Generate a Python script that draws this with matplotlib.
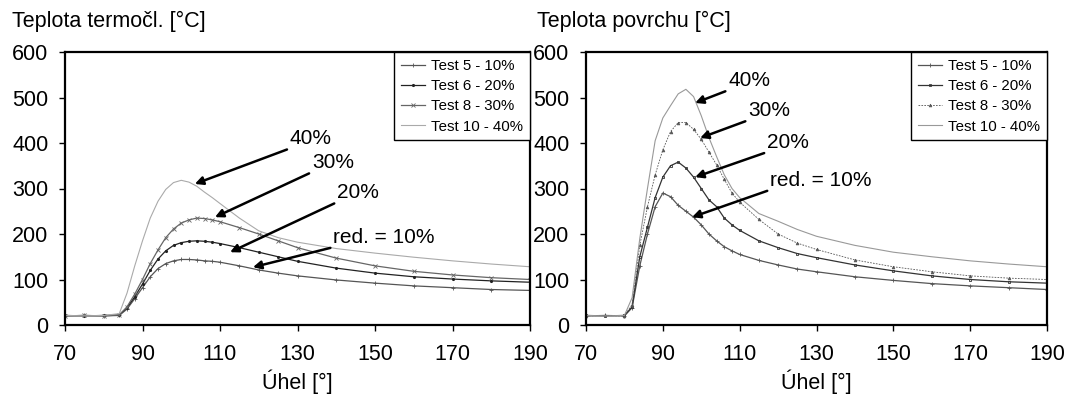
import matplotlib
matplotlib.use("Agg")
import matplotlib.pyplot as plt

plt.rcParams['font.family'] = ['Liberation Sans', 'DejaVu Sans']

# ---------------- data ----------------
x_left = [70, 75, 80, 84, 86, 88, 90, 92, 94, 96, 98, 100, 102, 104, 106, 108, 110,
          115, 120, 125, 130, 140, 150, 160, 170, 180, 190]
left_10 = [20, 21, 20, 21, 35, 58, 82, 106, 124, 135, 141, 144, 144, 143, 141, 140, 138,
           130, 121, 114, 108, 99, 92, 86, 82, 78, 76]
left_20 = [21, 20, 21, 22, 38, 62, 90, 120, 145, 163, 175, 181, 184, 185, 184, 182, 179,
           170, 160, 150, 140, 125, 114, 106, 101, 97, 94]
left_30 = [20, 21, 20, 22, 40, 68, 100, 135, 165, 192, 211, 224, 231, 235, 234, 231, 227,
           214, 200, 185, 170, 147, 130, 118, 110, 104, 100]
left_40 = [21, 20, 21, 25, 70, 130, 185, 235, 272, 298, 313, 318, 314, 305, 292, 280, 267,
           235, 207, 192, 182, 168, 158, 149, 141, 134, 128]

x_right = [70, 75, 80, 82, 84, 86, 88, 90, 92, 94, 96, 98, 100, 102, 104, 106, 108, 110,
           115, 120, 125, 130, 140, 150, 160, 170, 180, 190]
right_10 = [20, 21, 20, 38, 130, 200, 260, 290, 282, 263, 250, 237, 220, 200, 185, 172, 163, 155,
            142, 132, 123, 117, 106, 98, 91, 86, 82, 78]
right_20 = [21, 20, 21, 40, 150, 215, 280, 325, 350, 358, 345, 325, 300, 275, 260, 235, 220, 208,
            185, 170, 157, 148, 132, 119, 108, 100, 95, 92]
right_30 = [20, 21, 20, 45, 175, 260, 330, 385, 425, 445, 445, 430, 408, 380, 352, 320, 290, 270,
            232, 200, 180, 166, 143, 128, 117, 108, 103, 100]
right_40 = [21, 20, 21, 60, 190, 300, 405, 455, 482, 508, 518, 502, 460, 412, 370, 330, 300, 280,
            245, 228, 210, 195, 175, 160, 150, 141, 134, 128]

legend_labels = ["Test 5 - 10%", "Test 6 - 20%", "Test 8 - 30%", "Test 10 - 40%"]
x_ticks = [70, 90, 110, 130, 150, 170, 190]
y_ticks = [0, 100, 200, 300, 400, 500, 600]
titles = ["Teplota termočl. [°C]", "Teplota povrchu [°C]"]
xlabel = "Úhel [°]"
ann_labels = ["40%", "30%", "20%", "red. = 10%"]

# ---------------- figure ----------------
W, H = 1065, 394
fig = plt.figure(figsize=(W / 100, H / 100), dpi=100)

def px_axes(l, r, t, b):
    return [l / W, 1 - b / H, (r - l) / W, (b - t) / H]

axL = fig.add_axes(px_axes(65, 530, 52, 325))
axR = fig.add_axes(px_axes(586, 1047, 52, 325))

# left series
axL.plot(x_left, left_10, color='#555555', lw=0.9, marker='+', ms=3, mew=0.6, label=legend_labels[0])
axL.plot(x_left, left_20, color='#222222', lw=0.9, marker='.', ms=2.5, label=legend_labels[1])
axL.plot(x_left, left_30, color='#666666', lw=0.9, marker='x', ms=2.5, mew=0.6, label=legend_labels[2])
axL.plot(x_left, left_40, color='#aaaaaa', lw=0.8, label=legend_labels[3])

# right series
axR.plot(x_right, right_10, color='#555555', lw=0.9, marker='+', ms=3, mew=0.6, label=legend_labels[0])
axR.plot(x_right, right_20, color='#333333', lw=0.9, marker='s', ms=2, mfc='none', mew=0.6, label=legend_labels[1])
axR.plot(x_right, right_30, color='#555555', lw=0.6, ls=(0, (2, 1.5)), marker='^', ms=2, mew=0.5, label=legend_labels[2])
axR.plot(x_right, right_40, color='#999999', lw=0.8, label=legend_labels[3])

for ax, title, tx in ((axL, titles[0], 12), (axR, titles[1], 537)):
    ax.set_xlim(70, 190)
    ax.set_ylim(0, 600)
    ax.set_xticks(x_ticks)
    ax.set_yticks(y_ticks)
    ax.tick_params(axis='both', direction='out', length=4, width=1, labelsize=15.5, color='black')
    ax.tick_params(axis='y', pad=8)
    ax.tick_params(axis='x', pad=10)
    for s in ax.spines.values():
        s.set_linewidth(1.6)
        s.set_color('black')
    ax.set_xlabel(xlabel, fontsize=15.5, labelpad=3)
    fig.text(tx / W, 1 - 21 / H, title, fontsize=15.5, ha='left', va='center')
    leg = ax.legend(loc='upper right', bbox_to_anchor=(1, 1), borderaxespad=0,
                    fancybox=False, framealpha=1, edgecolor='black', fontsize=10.8,
                    handlelength=1.6, handletextpad=0.45, labelspacing=0.42,
                    borderpad=0.45, numpoints=1)
    leg.get_frame().set_linewidth(1.0)

arrow_kw = dict(arrowstyle='-|>', color='black', lw=1.8, mutation_scale=12,
                shrinkA=0, shrinkB=0, relpos=(0, 0))

# left annotations: (text lower-left, arrow tip)
left_ann = [((128.0, 388), (103.5, 310)),
            ((133.7, 336), (108.7, 237)),
            ((140.2, 270), (112.6, 160)),
            ((139.2, 171), (118.5, 127))]
for lab, (txy, axy) in zip(ann_labels, left_ann):
    axL.annotate(lab, xy=axy, xytext=txy, fontsize=15, ha='left', va='bottom',
                 arrowprops=arrow_kw)

right_ann = [((107.0, 516), (98.4, 488)),
             ((112.2, 450), (99.7, 411)),
             ((117.1, 380), (98.4, 325)),
             ((117.9, 297), (97.6, 237))]
for lab, (txy, axy) in zip(ann_labels, right_ann):
    axR.annotate(lab, xy=axy, xytext=txy, fontsize=15, ha='left', va='bottom',
                 arrowprops=arrow_kw)

fig.savefig("out.png", dpi=100)
